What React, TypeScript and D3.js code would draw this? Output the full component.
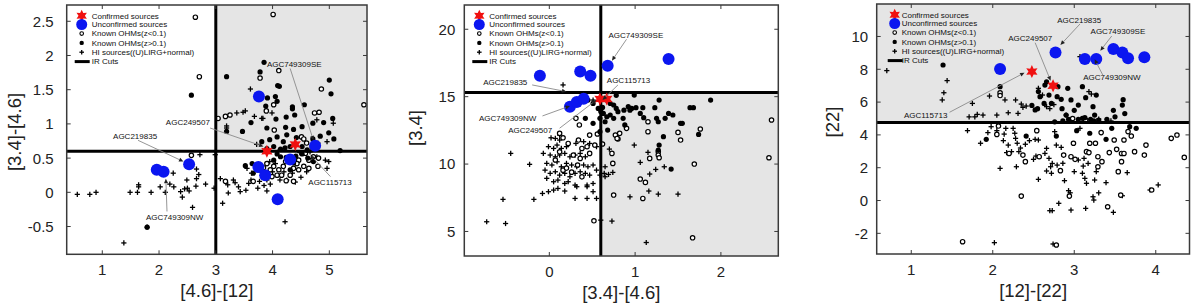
import React from 'react';
import * as d3 from 'd3';

type P = [number, number];

// ---------- Panel 1 : [4.6]-[12] vs [3.4]-[4.6] ----------
const p1Hi: P[] = [
  [0.56,-0.03],[0.78,-0.03],[0.89,0.0],[1.49,0.0],[1.62,0.0],[1.64,0.11],[1.64,0.08],[1.86,0.0],[2.02,0.08],[2.11,0.0],
  [2.19,0.12],[2.25,0.28],[2.26,0.08],[2.38,0.01],[2.41,-0.07],[2.49,0.18],[2.45,0.05],[2.5,0.06],[2.53,0.02],[2.59,-0.22],
  [2.65,0.09],[2.66,0.2],[2.66,0.34],[2.7,0.26],[2.72,0.55],[2.82,0.12],[2.97,0.06],[1.38,-0.74],[1.79,-0.51],
  [3.19,0.97],[3.19,0.94],[3.37,1.16],[3.52,1.19],[3.61,1.51],[3.68,1.11],[3.72,0.7],[3.83,1.08],[3.99,1.16],[4.78,1.06],
  [5.07,1.01],[4.96,0.74],[4.8,0.72],[2.99,0.55],[3.08,0.2],[3.12,-0.16],[3.21,0.11],[3.22,-0.01],[3.31,0.18],[3.34,0.14],
  [3.4,0.08],[3.43,0.01],[3.53,0.03],[3.58,0.13],[3.62,0.18],[3.63,0.28],[3.55,0.35],[3.74,0.06],[3.77,0.16],[3.78,0.32],
  [3.9,0.18],[3.96,0.12],[3.9,0.02],[4.13,0.18],[4.25,0.18],[4.22,-0.43],[4.66,0.59],[4.78,0.52],[4.93,0.47],[4.99,0.45],
  [4.96,0.35],[4.48,0.58],[4.1,0.6],[3.95,0.45],[4.05,0.42],[4.2,0.3],[4.35,0.28],[4.5,0.22],[4.6,0.3],[4.0,0.3],
  [3.85,0.1],[4.4,0.15],[3.48,1.17],[3.81,1.08]
];
const p1Open: P[] = [
  [2.64,2.56],[2.71,1.69],[4.01,2.6],[4.11,1.78],[3.78,1.67],[4.86,1.51],[5.61,1.28],[4.02,1.28],[3.89,1.19],[3.04,1.08],
  [3.17,1.11],[3.25,1.13],[4.74,1.16],[4.82,1.17],[4.03,0.91],[4.51,0.81],[4.55,0.78],[2.57,0.54],[3.17,0.16],[4.81,0.5],
  [4.8,0.38],[4.24,0.17],[4.37,0.16],[3.9,0.42],[4.02,0.38],[4.11,0.33],[4.19,0.38],[4.31,0.25],[4.46,0.33],[4.55,0.38],
  [4.64,0.47],[4.72,0.52],[4.46,0.47],[4.08,0.25],[3.99,0.23],[3.84,0.28],[3.84,0.36],[3.66,0.16],[4.31,0.52],[4.58,0.57],
  [4.64,0.35],[4.37,0.35],[4.16,0.25],[3.96,0.33],[3.72,0.33],[4.7,0.66],[4.6,0.72],[4.23,0.45],[4.43,0.42]
];
const p1Filled: P[] = [
  [2.57,1.42],[3.19,1.69],[3.85,1.9],[3.78,1.76],[4.09,1.56],[4.12,1.55],[3.91,1.38],[4.05,1.4],[4.08,1.33],[5.0,1.64],
  [5.03,1.44],[4.35,1.25],[4.35,1.22],[4.56,1.28],[3.88,1.26],[4.06,1.07],[4.24,1.1],[4.39,1.13],[3.47,0.89],[3.62,1.02],
  [3.9,0.94],[4.08,0.81],[4.23,0.95],[4.37,0.92],[4.52,0.96],[4.71,1.01],[4.9,1.02],[5.06,1.08],[4.99,0.87],[5.08,0.78],
  [4.84,0.82],[4.71,0.78],[4.42,0.8],[4.25,0.84],[3.95,0.77],[3.81,0.74],[3.19,0.89],[4.19,0.74],[4.02,0.67],[3.9,0.64],
  [4.31,0.67],[4.52,0.67],[4.61,0.62],[4.14,0.63],[4.22,0.65],[5.19,0.61],[3.52,0.39],[3.64,0.42],[3.66,0.28],[4.14,0.52],
  [4.24,0.51],[4.08,0.56],[4.41,0.53],[4.52,0.56],[4.72,0.45],[4.62,0.5],[4.02,0.47],[4.37,0.43],[3.88,0.25],[4.31,0.33],
  [1.79,-0.51]
];
const p1Blue: P[] = [[1.96,0.33],[2.08,0.3],[2.53,0.41],[3.76,1.4],[3.75,0.37],[3.87,0.25],[4.31,0.48],[4.75,0.68],[4.09,-0.1]];
const p1Red: P[] = [[3.9,0.6],[4.4,0.7]];
const p1Labels = ['AGC749309SE','AGC249507','AGC219835','AGC749309NW','AGC115713'];
const p1LabelAt: P[] = [[3.9,1.83],[2.12,0.98],[1.19,0.78],[1.77,-0.4],[4.63,0.11]];
const p1LineFrom: P[] = [[4.31,1.81],[2.9,0.94],[1.63,0.76],[2.14,-0.28],[5.02,0.23]];
const p1LineTo: P[] = [[4.72,0.76],[3.84,0.67],[2.43,0.45],[2.12,0.2],[4.67,0.54]];

// ---------- Panel 2 : [3.4]-[4.6] vs [3.4] ----------
const p2Hi: P[] = [
  [-0.73,5.72],[-0.51,5.59],[-0.54,7.38],[-0.45,10.79],[-0.23,9.98],[-0.18,7.38],[-0.08,7.82],[0.16,15.87],[0.51,14.75],
  [0.99,11.41],[1.15,10.87],[1.06,10.12],[1.24,9.6],[1.34,9.8],[1.17,9.26],[1.16,8.0],[0.94,7.57],[1.27,7.77],[1.5,7.77],
  [0.73,5.77],[1.13,4.18],[0.7,11.11],[0.65,9.8],[0.74,9.38],[0.69,9.23],[0.64,9.31],
  [0.02,11.95],[0.07,11.9],[0.12,12.15],[0.12,11.78],[-0.01,11.29],[0.05,11.16],[0.09,11.41],[0.14,11.16],[0.2,11.29],
  [-0.07,10.79],[0.01,10.67],[0.07,10.54],[0.12,10.67],[0.18,10.79],[0.24,10.54],[0.3,10.67],[0.36,10.79],[0.42,10.54],
  [-0.03,10.05],[0.03,9.93],[0.09,10.17],[0.14,9.8],[0.2,10.05],[0.26,9.93],[0.32,9.8],[0.4,9.93],[0.45,9.8],[0.51,9.93],
  [0.55,9.55],[-0.05,9.55],[0.01,9.31],[0.07,9.43],[0.12,9.18],[0.18,9.31],[0.24,9.06],[0.3,9.31],[0.36,9.43],[0.42,9.31],
  [0.47,9.18],[0.59,9.18],[-0.03,8.94],[0.05,8.69],[0.1,8.81],[0.18,8.56],[0.22,8.69],[0.3,8.44],[0.44,8.44],[0.51,8.56],
  [0.65,9.06],[-0.01,7.95],[0.05,8.07],[0.1,8.19],[0.18,8.0],[0.32,8.32],[0.44,8.32],[0.51,7.95],[0.3,7.45],[0.44,7.45],
  [0.55,7.45],[0.31,11.53],[0.4,11.66],[0.47,11.53],[0.55,11.29],[0.6,5.84]
];
const p2Open: P[] = [
  [0.31,13.39],[0.35,12.9],[0.47,12.15],[0.12,12.28],[0.16,11.95],[0.22,11.53],[0.34,11.78],[0.38,11.16],[0.44,11.29],
  [0.47,10.79],[0.28,10.67],[0.36,10.42],[0.33,9.93],[0.07,10.3],[0.16,9.55],[0.12,10.91],[0.53,11.41],[0.56,12.23],
  [0.77,12.15],[0.8,11.86],[0.52,5.79],[0.26,9.4],[0.38,9.05],[0.2,9.7],
  [1.15,13.14],[0.9,12.65],[0.82,12.28],[0.79,11.9],[1.15,12.4],[1.5,12.35],[1.53,11.78],[1.76,12.6],[2.59,13.27],[2.56,10.47],
  [1.27,10.92],[1.27,10.67],[1.28,10.47],[1.17,10.42],[0.73,10.79],[0.74,10.05],[1.06,8.89],[1.12,8.64],[1.69,10.0],[0.75,7.7],
  [1.09,7.45],[1.67,4.53],[0.62,11.49]
];
const p2Filled: P[] = [
  [0.99,15.12],[1.28,14.75],[1.88,14.75],[0.67,14.75],[0.71,14.5],[0.75,14.38],[0.78,14.13],[0.8,13.89],[0.87,14.0],[0.92,14.26],
  [0.96,14.13],[0.94,14.0],[1.01,14.18],[1.09,14.18],[1.06,13.76],[1.1,13.44],[1.23,14.18],[1.25,13.39],[1.27,13.14],[1.35,13.39],
  [1.39,13.76],[1.44,13.64],[1.53,13.02],[1.55,13.02],[1.64,14.18],[1.68,14.18],[0.63,13.76],[0.67,13.51],[0.71,13.64],[0.75,13.39],
  [0.65,13.14],[0.68,12.52],[0.86,13.39],[0.88,12.9],[1.33,12.03],[1.28,11.41],[1.27,11.04],[1.42,9.63],[1.74,12.2],[0.42,15.0],
  [0.45,14.75],[0.51,14.5],[0.57,14.13],[0.42,13.39],[0.51,13.02],[0.59,13.39],[0.59,12.4],[0.62,14.2],[0.6,13.9],[0.78,15.1]
];
const p2Blue: P[] = [[-0.11,16.56],[0.36,16.86],[0.48,16.56],[0.68,17.3],[1.39,17.8],[0.24,14.25],[0.32,14.6],[0.4,14.85]];
const p2Red: P[] = [[0.59,14.83],[0.67,14.83]];
const p2Labels = ['AGC749309SE','AGC115713','AGC219835','AGC749309NW','AGC249507'];
const p2LabelAt: P[] = [[0.69,19.35],[0.67,16.05],[-0.77,15.85],[-0.82,13.18],[-0.48,12.28]];
const p2LineFrom: P[] = [[0.9,19.26],[0.8,15.87],[-0.2,15.87],[-0.08,13.57],[0.12,12.66]];
const p2LineTo: P[] = [[0.73,17.67],[0.62,14.76],[0.2,15.37],[0.24,14.31],[0.55,14.76]];

// ---------- Panel 3 : [12]-[22] vs [22] ----------
const p3Hi: P[] = [
  [1.69,4.26],[1.85,3.49],[1.94,4.14],[1.98,4.5],[2.05,4.26],[2.09,1.96],[2.13,3.65],[2.16,4.4],[2.14,4.05],[2.19,3.38],
  [2.17,2.92],[2.23,2.98],[2.25,4.4],[2.27,4.1],[2.28,3.79],[2.29,2.06],[2.3,3.49],[2.32,2.98],[2.34,3.2],[2.4,3.43],
  [2.45,3.65],[2.5,2.51],[2.52,3.73],[2.53,2.71],[2.56,3.69],[2.56,1.29],[2.64,2.87],[2.66,3.18],[2.66,1.8],[2.69,2.57],
  [2.71,2.06],[2.72,1.66],[2.73,2.26],[2.76,4.2],[2.78,3.38],[2.79,2.16],[2.81,-0.17],[2.84,3.24],[2.86,2.27],[2.88,1.21],
  [2.93,0.6],[2.95,0.47],[2.96,-0.58],[3.0,1.76],[3.05,2.47],[3.07,4.4],[3.1,1.66],[3.11,2.1],[3.12,2.57],[3.13,1.35],
  [3.15,1.05],[3.14,-0.48],[3.17,2.26],[3.23,0.23],[3.24,0.03],[3.25,1.25],[3.27,1.76],[3.3,0.47],[3.39,1.09],[3.48,-0.72],
  [3.59,0.29],[3.65,1.7],[3.93,0.64],[4.03,0.95],[2.02,-2.57],[2.74,-2.65],[2.7,-0.62],[2.73,-0.62],
  [0.7,7.92],[1.44,7.31],[1.4,6.57],[1.38,6.13],[1.75,5.92],[1.81,5.25],[1.88,5.21],[1.96,6.37],[2.15,6.13],[2.28,6.13],
  [2.35,5.88],[2.37,5.68],[2.41,5.76],[2.19,5.35],[2.05,5.21],[3.07,8.77],[3.18,6.64],[2.56,6.84],[2.61,6.43],[2.66,5.72],
  [2.9,5.21],[3.3,4.97],[3.21,6.49],[2.31,5.31],[1.71,5.1],[1.78,5.1],[2.7,5.6],[2.75,5.85],[2.95,4.9],[3.45,4.85]
];
const p3Open: P[] = [
  [2.05,4.03],[2.07,4.54],[2.2,2.87],[2.37,2.77],[2.4,2.37],[2.54,4.26],[2.57,2.67],[2.35,0.27],[2.83,1.82],[2.94,0.27],
  [2.87,2.77],[2.96,2.67],[3.01,2.51],[2.99,3.49],[3.15,2.98],[3.18,2.92],[3.19,3.49],[3.26,3.49],[3.29,2.67],[3.29,2.06],
  [3.33,4.14],[3.34,2.37],[3.43,2.92],[3.49,3.69],[3.52,3.12],[3.54,1.76],[3.57,0.33],[3.58,2.87],[3.58,2.37],[3.61,2.87],
  [3.61,3.69],[3.66,4.2],[3.7,3.93],[3.74,2.98],[3.86,2.77],[3.88,3.38],[3.95,0.64],[4.19,3.79],[4.26,3.99],[4.35,2.63],
  [3.41,-0.38],[2.78,-2.71],[1.63,-2.51],[2.09,6.57],[2.09,6.4],[3.14,4.91],[2.98,5.0]
];
const p3Filled: P[] = [
  [1.39,8.26],[1.92,3.73],[2.41,3.93],[2.78,3.93],[3.03,4.26],[3.19,4.1],[3.39,3.73],[3.46,4.4],[3.68,4.5],[3.76,4.4],
  [2.09,6.94],[2.56,6.64],[2.64,7.04],[2.66,7.24],[2.8,6.94],[2.92,6.84],[3.1,6.94],[2.79,6.33],[2.84,6.17],[2.58,6.33],
  [2.69,6.43],[2.72,5.92],[2.63,5.92],[2.52,5.52],[2.96,6.13],[3.14,6.27],[3.27,6.43],[3.05,5.82],[3.23,5.72],[2.9,5.21],
  [3.25,5.21],[3.1,5.01],[2.86,4.85],[2.93,4.95],[3.05,4.95],[3.13,5.05],[3.2,4.95],[3.24,4.85],[3.3,4.9],[3.4,4.95],
  [3.5,5.1],[3.62,5.3],[3.6,6.15],[3.48,5.5],[2.76,4.8],[2.55,5.6],[2.48,5.8],[2.85,5.6],[3.0,5.5],[3.59,5.82]
];
const p3Blue: P[] = [[2.09,8.02],[2.77,9.03],[3.13,8.63],[3.27,8.63],[3.48,9.24],[3.59,9.03],[3.66,8.67],[3.86,8.73]];
const p3Red: P[] = [[2.48,7.86],[2.74,7.0]];
const p3Labels = ['AGC219835','AGC749309SE','AGC249507','AGC749309NW','AGC115713'];
const p3LabelAt: P[] = [[2.79,10.85],[3.2,10.15],[2.19,9.7],[3.11,7.32],[0.91,5.03]];
const p3LineFrom: P[] = [[3.07,10.76],[3.46,10.03],[2.52,9.62],[3.35,7.65],[1.47,5.38]];
const p3LineTo: P[] = [[2.83,9.48],[3.32,9.13],[2.71,7.3],[3.25,8.61],[2.39,7.79]];

const legendLabels = ['Confirmed sources','Unconfirmed sources','Known OHMs(z<0.1)','Known OHMs(z>0.1)','HI sources((U)LIRG+normal)','IR Cuts'];

const p1XTicks = [1,2,3,4,5];
const p1YTicks = [-0.5,0,0.5,1,1.5,2,2.5];
const p2XTicks = [0,1,2];
const p2YTicks = [5,10,15,20];
const p3XTicks = [1,2,3,4];
const p3YTicks = [-2,0,2,4,6,8,10];

const FONT = 'Liberation Sans, Arial, Helvetica, sans-serif';

function starPath(cx: number, cy: number, R: number, r: number) {
  const pts: string[] = [];
  for (let i = 0; i < 12; i++) {
    const a = -Math.PI / 2 + (i * Math.PI) / 6;
    const rad = i % 2 === 0 ? R : r;
    pts.push(`${(cx + rad * Math.cos(a)).toFixed(2)},${(cy + rad * Math.sin(a)).toFixed(2)}`);
  }
  return 'M' + pts.join('L') + 'Z';
}

function Plus({ x, y, s = 2.6 }: { x: number; y: number; s?: number }) {
  return (
    <g stroke="#000" strokeWidth={1.3}>
      <line x1={x - s} x2={x + s} y1={y} y2={y} />
      <line x1={x} x2={x} y1={y - s} y2={y + s} />
    </g>
  );
}

interface Spec {
  box: [number, number, number, number];
  xDomain: [number, number];
  yDomain: [number, number];
  xTicks: number[];
  yTicks: number[];
  xTitle: string;
  yTitle: string;
  yTitleX: number;
  yTitleY: number;
  yLabelGap: number;
  shade: [number, number, number, number];
  vCut: number | null;
  hCut: number | null;
  hi: P[]; open: P[]; filled: P[]; blue: P[]; red: P[];
  labels: string[]; labelAt: P[]; lineFrom: P[]; lineTo: P[];
  legendMarkerDx: number;
}

function Panel({ s }: { s: Spec }) {
  const [L, R, T, B] = s.box;
  const x = d3.scaleLinear().domain(s.xDomain).range([L, R]);
  const y = d3.scaleLinear().domain(s.yDomain).range([B, T]);
  const clamp = (v: number, a: number, b: number) => Math.max(a, Math.min(b, v));
  const sx0 = x(clamp(s.shade[0], s.xDomain[0], s.xDomain[1]));
  const sx1 = x(clamp(s.shade[1], s.xDomain[0], s.xDomain[1]));
  const sy0 = y(clamp(s.shade[2], s.yDomain[0], s.yDomain[1]));
  const sy1 = y(clamp(s.shade[3], s.yDomain[0], s.yDomain[1]));
  const tickLen = 4;
  const fmt = (v: number) => String(v);
  const legRows = [10.7, 19.5, 28.6, 37.9, 47.2, 56.6];
  const mx = L + s.legendMarkerDx;
  const tx = L + 25;

  return (
    <g>
      <rect x={L} y={T} width={R - L} height={B - T} fill="#fff" />
      <rect x={sx0} y={sy1} width={sx1 - sx0} height={sy0 - sy1} fill="#e5e5e5" />
      {s.hi.map((p, i) => <Plus key={'h' + i} x={x(p[0])} y={y(p[1])} />)}
      {s.open.map((p, i) => <circle key={'o' + i} cx={x(p[0])} cy={y(p[1])} r={2.2} fill="#fff" stroke="#000" strokeWidth={1.2} />)}
      {s.filled.map((p, i) => <circle key={'f' + i} cx={x(p[0])} cy={y(p[1])} r={2.6} fill="#000" />)}
      {s.vCut !== null && <line x1={x(s.vCut)} x2={x(s.vCut)} y1={T} y2={B} stroke="#000" strokeWidth={3} />}
      {s.hCut !== null && <line x1={L} x2={R} y1={y(s.hCut)} y2={y(s.hCut)} stroke="#000" strokeWidth={3} />}
      {s.blue.map((p, i) => <circle key={'b' + i} cx={x(p[0])} cy={y(p[1])} r={6} fill="#0b16f0" />)}
      {s.red.map((p, i) => <path key={'r' + i} d={starPath(x(p[0]), y(p[1]), 6.5, 3.4)} fill="#f01010" />)}
      {s.labels.map((t, i) => {
        const x1 = x(s.lineFrom[i][0]), y1 = y(s.lineFrom[i][1]);
        const x2 = x(s.lineTo[i][0]), y2 = y(s.lineTo[i][1]);
        const ang = Math.atan2(y2 - y1, x2 - x1);
        const al = 4.5, aw = 2;
        const bx = x2 - al * Math.cos(ang), by = y2 - al * Math.sin(ang);
        const head = `M${x2},${y2}L${bx - aw * Math.sin(ang)},${by + aw * Math.cos(ang)}L${bx + aw * Math.sin(ang)},${by - aw * Math.cos(ang)}Z`;
        return (
          <g key={'a' + i}>
            <line x1={x1} y1={y1} x2={bx} y2={by} stroke="#8a8a8a" strokeWidth={0.9} />
            <path d={head} fill="#222" />
            <text x={x(s.labelAt[i][0])} y={y(s.labelAt[i][1])} fontSize={8} fontFamily={FONT} fill="#111">{t}</text>
          </g>
        );
      })}
      <rect x={L} y={T} width={R - L} height={B - T} fill="none" stroke="#3a3a3a" strokeWidth={1.5} />
      {s.xTicks.map((v) => (
        <g key={'xt' + v}>
          <line x1={x(v)} x2={x(v)} y1={B} y2={B - tickLen} stroke="#3a3a3a" strokeWidth={1} />
          <line x1={x(v)} x2={x(v)} y1={T} y2={T + tickLen} stroke="#3a3a3a" strokeWidth={1} />
          <text x={x(v)} y={B + 21} textAnchor="middle" fontSize={15} fontFamily={FONT} fill="#222">{fmt(v)}</text>
        </g>
      ))}
      {s.yTicks.map((v) => (
        <g key={'yt' + v}>
          <line x1={L} x2={L + tickLen} y1={y(v)} y2={y(v)} stroke="#3a3a3a" strokeWidth={1} />
          <line x1={R} x2={R - tickLen} y1={y(v)} y2={y(v)} stroke="#3a3a3a" strokeWidth={1} />
          <text x={L - s.yLabelGap} y={y(v)} dy="0.36em" textAnchor="end" fontSize={15} fontFamily={FONT} fill="#222">{fmt(v)}</text>
        </g>
      ))}
      <text x={(L + R) / 2} y={B + 43} textAnchor="middle" fontSize={18.5} fontFamily={FONT} fill="#222">{s.xTitle}</text>
      <text transform={`translate(${s.yTitleX},${s.yTitleY}) rotate(-90)`} dy="0.36em" textAnchor="middle" fontSize={18.5} fontFamily={FONT} fill="#222">{s.yTitle}</text>
      <g fontFamily={FONT} fontSize={8} fill="#111">
        <path d={starPath(mx, T + legRows[0], 6, 3.2)} fill="#f01010" />
        <circle cx={mx} cy={T + legRows[1]} r={5.5} fill="#0b16f0" />
        <circle cx={mx} cy={T + legRows[2]} r={1.8} fill="#fff" stroke="#000" strokeWidth={1.1} />
        <circle cx={mx} cy={T + legRows[3]} r={2.2} fill="#000" />
        <Plus x={mx} y={T + legRows[4]} s={2.3} />
        <line x1={mx - 7} x2={mx + 8} y1={T + legRows[5]} y2={T + legRows[5]} stroke="#000" strokeWidth={3} />
        {legendLabels.map((t, i) => (
          <text key={'lg' + i} x={tx} y={T + legRows[i]} dy="0.35em">{t}</text>
        ))}
      </g>
    </g>
  );
}

const specs: Spec[] = [
  {
    box: [66.7, 367, 5, 254.3], xDomain: [0.373, 5.664], yDomain: [-0.906, 2.738],
    xTicks: p1XTicks, yTicks: p1YTicks, xTitle: '[4.6]-[12]', yTitle: '[3.4]-[4.6]', yTitleX: 14, yTitleY: 132, yLabelGap: 13,
    shade: [3, 99, 0.6, 99], vCut: 3, hCut: 0.6,
    hi: p1Hi, open: p1Open, filled: p1Filled, blue: p1Blue, red: p1Red,
    labels: p1Labels, labelAt: p1LabelAt, lineFrom: p1LineFrom, lineTo: p1LineTo, legendMarkerDx: 15,
  },
  {
    box: [464.3, 778.3, 5, 256], xDomain: [-0.991, 2.669], yDomain: [3.18, 21.8],
    xTicks: p2XTicks, yTicks: p2YTicks, xTitle: '[3.4]-[4.6]', yTitle: '[3.4]', yTitleX: 415, yTitleY: 128, yLabelGap: 9,
    shade: [0.6, 99, -99, 15.3], vCut: 0.6, hCut: 15.3,
    hi: p2Hi, open: p2Open, filled: p2Filled, blue: p2Blue, red: p2Red,
    labels: p2Labels, labelAt: p2LabelAt, lineFrom: p2LineFrom, lineTo: p2LineTo, legendMarkerDx: 15,
  },
  {
    box: [876.7, 1189.5, 4, 254], xDomain: [0.576, 4.414], yDomain: [-3.26, 11.98],
    xTicks: p3XTicks, yTicks: p3YTicks, xTitle: '[12]-[22]', yTitle: '[22]', yTitleX: 832, yTitleY: 122, yLabelGap: 8.5,
    shade: [-99, 99, 4.75, 99], vCut: null, hCut: 4.75,
    hi: p3Hi, open: p3Open, filled: p3Filled, blue: p3Blue, red: p3Red,
    labels: p3Labels, labelAt: p3LabelAt, lineFrom: p3LineFrom, lineTo: p3LineTo, legendMarkerDx: 18,
  },
];

export default function App() {
  return (
    <svg width={1200} height={306} style={{ position: 'absolute', left: 0, top: 0, background: '#fff' }}>
      <rect width={1200} height={306} fill="#fff" />
      {specs.map((s, i) => <Panel key={i} s={s} />)}
    </svg>
  );
}
